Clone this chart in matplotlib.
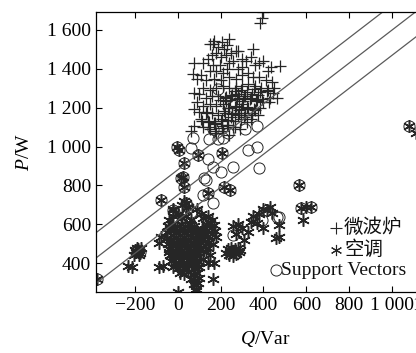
import matplotlib
matplotlib.use("Agg")
import matplotlib.pyplot as plt
from matplotlib.lines import Line2D
from matplotlib.ticker import FuncFormatter, MultipleLocator

plt.rcParams['font.family'] = ['Liberation Serif', 'Noto Sans CJK SC']
plt.rcParams['mathtext.fontset'] = 'custom'
plt.rcParams['mathtext.rm'] = 'Liberation Serif'
plt.rcParams['mathtext.it'] = 'Liberation Serif:italic'

# 微波炉 samples (Q in Var, P in W)
mw_q = [150, 170, 190, 205, 215, 230, 163, 237, 180, 160, 140, 200, 225, 250, 270, 279, 353,
        120, 74, 165, 195, 240, 260, 300, 320, 340, 360, 380, 400, 420, 435, 479,
        300, 280, 230, 210, 180, 150, 110, 70, 90, 130, 170, 200, 240, 270, 300, 330,
        350, 380, 410, 440, 465, 450, 420, 390, 360, 330, 300, 270, 240, 210, 180, 150,
        120, 74, 100, 130, 160, 190, 220, 250, 280, 310, 340, 370, 400, 430, 90, 120,
        150, 180, 210, 240, 270, 300, 330, 360, 74, 100, 130, 160, 190, 220, 250, 280,
        310, 340, 110, 140, 170, 200, 230, 260, 290, 120, 150, 180, 210, 240, 74, 60,
        386, 400, 395, 135, 215, 255, 285, 315, 345, 195, 225,
        265, 295, 325, 355, 385, 415, 445, 245, 275, 305, 335, 365, 395, 425,
        235, 265, 295, 325, 355, 385, 255, 285, 315, 345, 375, 205, 235, 265, 295, 325,
        175, 205, 235, 265, 145, 175, 205, 115, 145, 175, 225, 255, 285, 315, 345, 375]
mw_p = [1530, 1545, 1510, 1540, 1500, 1520, 1528, 1554, 1480, 1470, 1450, 1460, 1470, 1480,
        1490, 1492, 1503, 1430, 1431, 1420, 1420, 1430, 1440, 1450, 1440, 1460, 1420, 1430,
        1441, 1390, 1410, 1416, 1410, 1400, 1400, 1380, 1390, 1390, 1370, 1375, 1350, 1340,
        1350, 1340, 1360, 1350, 1370, 1380, 1360, 1360, 1340, 1330, 1252, 1300, 1290, 1300,
        1310, 1320, 1310, 1300, 1300, 1310, 1300, 1290, 1300, 1277, 1270, 1250, 1260, 1260,
        1250, 1260, 1270, 1260, 1250, 1240, 1230, 1250, 1230, 1210, 1220, 1210, 1220, 1200,
        1210, 1220, 1200, 1190, 1195, 1180, 1170, 1170, 1160, 1170, 1150, 1160, 1150, 1140,
        1140, 1130, 1120, 1130, 1110, 1100, 1090, 1100, 1090, 1070, 1080, 1060, 1108, 1082,
        1636, 1690, 1660, 1180, 1185, 1175, 1190, 1170, 1160, 1240, 1235,
        1285, 1290, 1280, 1295, 1280, 1285, 1275, 1240, 1245, 1235, 1245, 1235, 1245, 1230,
        1200, 1205, 1195, 1205, 1195, 1200, 1165, 1170, 1160, 1170, 1160, 1140, 1135, 1130,
        1140, 1125, 1120, 1105, 1110, 1100, 1100, 1080, 1095, 1130, 1125, 1115, 1255, 1265,
        1250, 1260, 1270, 1265]

# 空调 samples
ac_q = [-40, -20, 0, 20, 40, 60, -45, -25, -5, 15, 35, 55, 75,
        -50, -30, -10, 10, 30, 50, 70, 90, -50, -30, -10, 10, 30, 50, 70, 90, 110,
        -45, -25, -5, 15, 35, 55, 75, 95, -40, -20, 0, 20, 40, 60, 80, 100,
        -35, -15, 5, 25, 45, 65, 85, -30, -10, 10, 30, 50, 70, 90,
        -20, 0, 20, 40, 60, 80, 100, 10, 30, 50, 70, 90, 60, 80, 100, 75, 95, 85,
        120, 140, 160, 130, 150, 170, 115, 135, 155, 175, 120, 140, 160, 180,
        125, 145, 165, 120, 140, 130, 150, 120, 140,
        20, 50, -20, 30, 90, 110,
        0, 84, 167, 163, -88, -70, -79, -88, -230, -215,
        -205, -195, -185, -175, -190, -200, -180, -170,
        225, 240, 255, 270, 285, 235, 250, 265, 280, 245, 260, 290,
        256, 280, 300, 270, 307, 340, 372, 400, 330, 350, 380, 400, 418, 430, 440,
        456, 470, 474, 586, 577, 623, 567, 600, 1079, 1111,
        -5, 28, 93, 205, 23, 28, 140, 37, 47, -79, 14, -23, -377, 5, 214, 246,
        -35, -15, 5, 25, 45, 65, 85, -30, -10, 10, 30, 50, 70, 90, 105,
        -40, -20, 0, 20, 40, 60, 80, 100, 5, 25, 45, 65, 85]
ac_p = [620, 640, 650, 630, 640, 620, 590, 600, 590, 600, 590, 600, 590,
        560, 565, 555, 565, 555, 565, 555, 560, 530, 525, 535, 525, 535, 525, 535, 525, 530,
        500, 495, 505, 495, 505, 495, 505, 495, 470, 465, 475, 465, 475, 465, 475, 465,
        440, 435, 445, 435, 445, 435, 445, 410, 405, 415, 405, 415, 405, 410,
        380, 375, 385, 375, 385, 375, 380, 350, 345, 355, 345, 350, 320, 315, 325, 290, 295, 265,
        630, 640, 620, 600, 605, 595, 575, 570, 580, 565, 545, 540, 550, 535,
        515, 510, 500, 485, 480, 455, 440, 420, 400,
        700, 690, 680, 720, 680, 650,
        251, 255, 400, 320, 380, 385, 533, 503, 385, 380,
        440, 455, 470, 450, 480, 465, 440, 475,
        450, 440, 460, 445, 455, 470, 480, 470, 475, 455, 435, 465,
        590, 600, 580, 550, 518, 610, 605, 580, 560, 640, 650, 680, 672, 690, 660,
        528, 533, 595, 621, 682, 687, 800, 690, 1108, 1070,
        995, 913, 954, 964, 841, 790, 759, 708, 687, 723, 836, 672, 318, 980, 790, 775,
        575, 580, 570, 580, 570, 580, 575, 515, 510, 515, 510, 515, 510, 515, 545,
        455, 450, 455, 450, 455, 450, 455, 450, 395, 390, 395, 390, 395]

# support vectors
sv_q = [60, 140, 70, 144, 186, 163, 209, 233, 316, 372, 163, 200, 256, 326, 372, 377,
        121, 130, 116, 163, 60, -19, 121, 260, 395, 465, 474, 190,
        -5, 28, 93, 205, 23, 28, 140, 37, 47, -79, 14, -23, -377, 5, 214, 246,
        418, 567, 577, 623, 1079, -190, -175]
sv_p = [990, 938, 1046, 1041, 1041, 1092, 1046, 1067, 1092, 1108, 893, 867, 893, 980, 995, 887,
        836, 826, 749, 708, 662, 662, 482, 544, 621, 636, 636, 1298,
        995, 913, 954, 964, 841, 790, 759, 708, 687, 723, 836, 672, 318, 980, 790, 775,
        672, 800, 682, 687, 1108, 465, 455]

# separating hyperplane and margins: P = k*Q + b
k = 0.85
offsets = [880, 750, 620]

fig = plt.figure(figsize=(4.16, 3.53), dpi=100)
ax = fig.add_axes([0.2308, 0.1728, 0.815, 0.793])

ink = '#262626'
aster = (6, 2, 0)
ax.plot(ac_q, ac_p, marker=aster, color=ink, ms=9, mew=1.1, ls='none')
ax.plot(mw_q, mw_p, '+', color=ink, ms=8, mew=0.9, ls='none')
ax.plot(sv_q, sv_p, 'o', mfc='none', mec=ink, ms=8, mew=0.7, ls='none')

xs = [-400, 1300]
for b in offsets:
    ax.plot(xs, [k * x + b for x in xs], color='#5a5a5a', lw=0.9)

ax.set_xlim(-381, 1200)
ax.set_ylim(251, 1692)
ax.xaxis.set_major_locator(MultipleLocator(200))
ax.yaxis.set_major_locator(MultipleLocator(200))

fmt = FuncFormatter(lambda v, pos: f"{v:,.0f}".replace(",", " ").replace("-", "\u2212"))
ax.xaxis.set_major_formatter(fmt)
ax.yaxis.set_major_formatter(fmt)
ax.tick_params(direction='in', top=True, right=True, labelsize=14, length=4, width=0.8)
for s in ax.spines.values():
    s.set_linewidth(0.9)

ax.set_xlabel(r'$\mathit{Q}$/Var', fontsize=14, labelpad=11)
ax.set_ylabel(r'$\mathit{P}$/W', fontsize=14, labelpad=10)

# legend drawn by hand next to the plot area
leg = [('+', (0.808, 0.354), '微波炉', 0.827),
       (aster, (0.808, 0.292), '空调', 0.827),
       ('o', (0.663, 0.235), 'Support Vectors', 0.676)]
for m, (mx, my), label, tx in leg:
    kw = dict(mfc='none', mec=ink, ms=8, mew=0.7) if m == 'o' else dict(color=ink, ms=8, mew=0.8)
    fig.add_artist(Line2D([mx], [my], marker=m, ls='none', transform=fig.transFigure, **kw))
    fig.text(tx, my, label, fontsize=14, va='center', ha='left', color='#111111')

fig.savefig('out.png', dpi=100)
